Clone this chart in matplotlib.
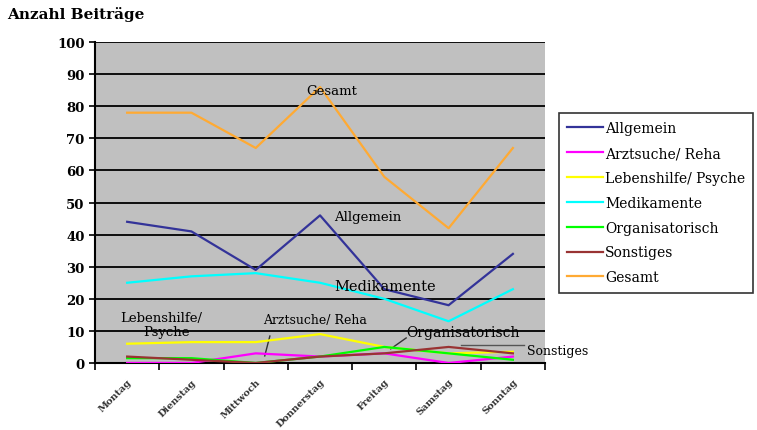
import numpy as np
import matplotlib.pyplot as plt

# Data
days = ["Montag", "Dienstag", "Mittwoch", "Donnerstag", "Freitag", "Samstag", "Sonntag"]
allgemein = [44, 41, 29, 46, 23, 18, 34]
arztsuche = [0, 0, 3, 2, 3, 0, 2]
lebenshilfe = [6, 6.5, 6.5, 9, 5, 3, 3.5]
medikamente = [25, 27, 28, 25, 20, 13, 23]
organisatorisch = [1.5, 1.5, 0, 2, 5, 3, 1]
sonstiges = [2, 1, 0, 2, 3, 5, 3]
gesamt = [78, 78, 67, 86, 58, 42, 67]

names = ["Allgemein", "Arztsuche/ Reha", "Lebenshilfe/ Psyche", "Medikamente",
         "Organisatorisch", "Sonstiges", "Gesamt"]
series = [allgemein, arztsuche, lebenshilfe, medikamente, organisatorisch, sonstiges, gesamt]
colors = ["#333399", "#ff00ff", "#ffff00", "#00ffff", "#00ff00", "#993333", "#ffaa33"]

plt.rcParams['font.family'] = ['DejaVu Serif']

fig = plt.figure(figsize=(7.57, 4.31), dpi=100)
ax = fig.add_axes([0.1255, 0.1555, 0.5945, 0.7445])
ax.set_facecolor("#c0c0c0")

x = np.arange(len(days))
for vals, c, n in zip(series, colors, names):
    ax.plot(x, vals, color=c, lw=1.6, label=n, zorder=3)

ax.set_xlim(-0.5, len(days) - 0.5)
ax.set_ylim(0, 100)
ax.set_yticks(np.arange(0, 101, 10))
ax.set_yticklabels([str(v) for v in range(0, 101, 10)], fontsize=9.5, fontweight='bold')
ax.yaxis.grid(True, color='black', lw=1.3)
ax.set_axisbelow(True)

# x ticks: labels at centers, tick marks at boundaries
ax.set_xticks(x)
ax.set_xticklabels(days, rotation=45, ha='right', rotation_mode='anchor',
                   fontsize=7, fontweight='bold', color='#333333')
ax.tick_params(axis='x', length=0, pad=10)
ax.set_xticks(np.arange(-0.5, len(days), 1), minor=True)
ax.tick_params(axis='x', which='minor', length=5, width=1.2, direction='out')
ax.tick_params(axis='y', length=4, width=1.2, direction='out')

for s in ['top', 'right']:
    ax.spines[s].set_visible(False)
ax.spines['left'].set_linewidth(1.5)
ax.spines['bottom'].set_linewidth(1.5)

# series labels on the chart
ax.text(2.78, 85, "Gesamt", fontsize=9.5, va='center')
ax.text(3.22, 45.5, "Allgemein", fontsize=9.5, va='center')
ax.text(3.22, 24, "Medikamente", fontsize=10.5, va='center')
ax.text(-0.11, 14.3, "Lebenshilfe/", fontsize=9.5, va='center')
ax.text(0.25, 9.7, "Psyche", fontsize=9.5, va='center')
ax.text(2.11, 13.7, "Arztsuche/ Reha", fontsize=9, va='center')
ax.plot([2.22, 2.14], [8.4, 2.2], color='#333333', lw=1)
ax.text(4.34, 9.7, "Organisatorisch", fontsize=10, va='center')
ax.plot([4.34, 4.1], [7.8, 4.4], color='#333333', lw=1)
ax.text(6.22, 4, "Sonstiges", fontsize=9, va='center', clip_on=False)
ax.plot([5.2, 6.17], [5.6, 5.6], color='#555555', lw=1, clip_on=False)

fig.text(0.01, 0.955, "Anzahl Beiträge", fontsize=11, fontweight='bold')

leg = fig.legend(loc='upper left', bbox_to_anchor=(0.7385, 0.7355), fontsize=10,
                 frameon=True, fancybox=False, edgecolor='black', handlelength=2.6,
                 handletextpad=0.1, labelspacing=0.78, borderpad=0.6, borderaxespad=0)
leg.get_frame().set_linewidth(1.2)

fig.savefig("out.png", dpi=100)
